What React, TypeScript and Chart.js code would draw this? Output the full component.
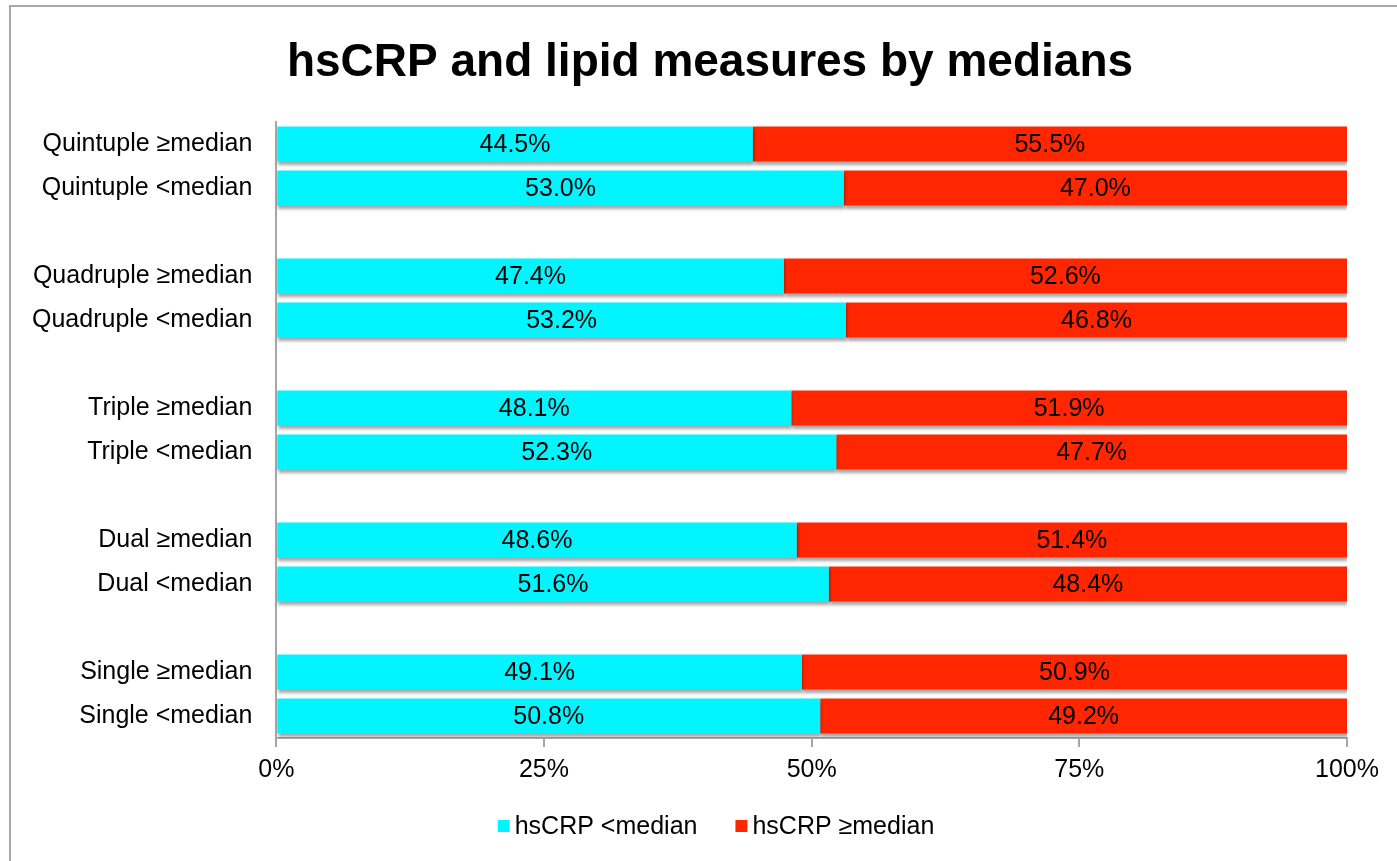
import React, { useEffect, useRef } from "react";
import { Chart, registerables } from "chart.js";

Chart.register(...registerables);

const titleText = "hsCRP and lipid measures by medians";

const categories: string[] = [
  "Quintuple ≥median",
  "Quintuple <median",
  "",
  "Quadruple ≥median",
  "Quadruple <median",
  "",
  "Triple ≥median",
  "Triple <median",
  "",
  "Dual ≥median",
  "Dual <median",
  "",
  "Single ≥median",
  "Single <median",
];

const belowMedian: (number | null)[] = [44.5, 53.0, null, 47.4, 53.2, null, 48.1, 52.3, null, 48.6, 51.6, null, 49.1, 50.8];
const aboveMedian: (number | null)[] = [55.5, 47.0, null, 52.6, 46.8, null, 51.9, 47.7, null, 51.4, 48.4, null, 50.9, 49.2];

const seriesNames = ["hsCRP <median", "hsCRP ≥median"];
const seriesColors = ["#00F5FF", "#FF2600"];
const xTicks = [0, 25, 50, 75, 100];

const FONT = "'Liberation Sans', Arial, Helvetica, sans-serif";

const titlePlugin = {
  id: "customTitle",
  afterDraw(chart: any) {
    const ctx = chart.ctx;
    ctx.save();
    ctx.font = `bold 46px ${FONT}`;
    ctx.fillStyle = "#000";
    ctx.textAlign = "center";
    ctx.textBaseline = "middle";
    ctx.fillText(titleText, 710, 63);
    ctx.restore();
  },
};

const legendPlugin = {
  id: "customLegend",
  afterDraw(chart: any) {
    const ctx = chart.ctx;
    ctx.save();
    ctx.font = `25px ${FONT}`;
    ctx.textAlign = "left";
    ctx.textBaseline = "middle";
    const box = 12;
    const textGap = 5;
    const itemGap = 38;
    const widths = chart.data.datasets.map((ds: any) => box + textGap + ctx.measureText(ds.label).width);
    const total = widths.reduce((a: number, b: number) => a + b, 0) + itemGap * (widths.length - 1);
    let x = 716 - total / 2;
    const y = 827;
    chart.data.datasets.forEach((ds: any, i: number) => {
      ctx.fillStyle = ds.backgroundColor;
      ctx.fillRect(x, y - box / 2 - 1, box, box);
      ctx.fillStyle = "#000";
      ctx.fillText(ds.label, x + box + textGap, y);
      x += widths[i] + itemGap;
    });
    ctx.restore();
  },
};

const shadowPlugin = {
  id: "barShadow",
  beforeDatasetsDraw(chart: any) {
    const ctx = chart.ctx;
    ctx.save();
    ctx.shadowColor = "rgba(0,0,0,0.35)";
    ctx.shadowOffsetX = 1;
    ctx.shadowOffsetY = 3;
    ctx.shadowBlur = 3;
  },
  afterDatasetsDraw(chart: any) {
    chart.ctx.restore();
  },
};

const labelPlugin = {
  id: "segLabels",
  afterDatasetsDraw(chart: any) {
    const ctx = chart.ctx;
    ctx.save();
    ctx.font = `25px ${FONT}`;
    ctx.fillStyle = "#000";
    ctx.textAlign = "center";
    ctx.textBaseline = "middle";
    chart.data.datasets.forEach((ds: any, di: number) => {
      const meta = chart.getDatasetMeta(di);
      meta.data.forEach((el: any, i: number) => {
        const v = ds.data[i];
        if (v === null || v === undefined) return;
        const cx = (el.x + el.base) / 2;
        ctx.fillText(v.toFixed(1) + "%", cx, el.y + 1);
      });
    });
    ctx.restore();
  },
};

export default function App() {
  const ref = useRef<HTMLCanvasElement>(null);

  useEffect(() => {
    if (!ref.current) return;
    const chart = new Chart(ref.current, {
      type: "bar",
      data: {
        labels: categories,
        datasets: [
          {
            label: seriesNames[0],
            data: belowMedian,
            backgroundColor: seriesColors[0],
            barPercentage: 0.8,
            categoryPercentage: 1,
          },
          {
            label: seriesNames[1],
            data: aboveMedian,
            backgroundColor: seriesColors[1],
            barPercentage: 0.8,
            categoryPercentage: 1,
          },
        ],
      },
      options: {
        indexAxis: "y",
        animation: false,
        responsive: false,
        maintainAspectRatio: false,
        layout: { padding: { left: 8, right: 50, top: 122, bottom: 68 } },
        plugins: {
          title: { display: false },
          legend: { display: false },
          tooltip: { enabled: false },
        },
        scales: {
          x: {
            stacked: true,
            min: 0,
            max: 100,
            afterBuildTicks: (axis: any) => {
              axis.ticks = xTicks.map((v) => ({ value: v }));
            },
            ticks: {
              color: "#000",
              font: { family: FONT, size: 25 },
              padding: 8,
              maxRotation: 0,
              callback: (v: any) => v + "%",
            },
            grid: {
              display: true,
              drawOnChartArea: false,
              drawTicks: true,
              tickLength: 9,
              color: "#a6a6a6",
              lineWidth: 2,
            },
            border: { display: true, color: "#a6a6a6", width: 2 },
          },
          y: {
            stacked: true,
            ticks: {
              color: "#000",
              font: { family: FONT, size: 25 },
              padding: 24,
              autoSkip: false,
            },
            grid: { display: false, drawTicks: false },
            border: { display: true, color: "#a6a6a6", width: 2 },
          },
        },
      },
      plugins: [shadowPlugin, labelPlugin, titlePlugin, legendPlugin],
    } as any);
    return () => chart.destroy();
  }, []);

  return (
    <div style={{ position: "fixed", left: 0, top: 0, width: 1397, height: 861, overflow: "hidden", background: "#fff" }}>
      <div
        style={{
          position: "absolute",
          left: 9,
          top: 5,
          width: 1500,
          height: 1000,
          border: "2px solid #a8a8a8",
        }}
      />
      <canvas ref={ref} width={1397} height={861} style={{ position: "absolute", left: 0, top: 0 }} />
    </div>
  );
}
